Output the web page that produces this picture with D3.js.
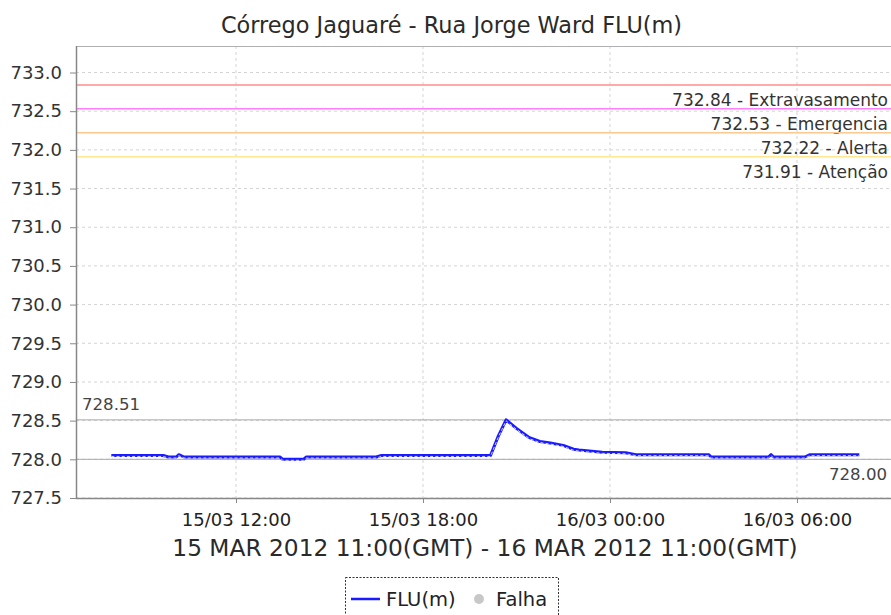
<!DOCTYPE html>
<html>
<head>
<meta charset="utf-8">
<script src="https://cdn.jsdelivr.net/npm/d3@7"></script>
<style>
  html, body { margin: 0; padding: 0; background: #fff; }
  svg { display: block; font-family: "DejaVu Sans", sans-serif; }
</style>
</head>
<body>
<svg id="chart" width="891" height="615"></svg>
<script>
// Water level readings, FLU(m), local time (GMT-3)
const times = [
  "2012-03-15 08:00", "2012-03-15 09:40", "2012-03-15 09:50", "2012-03-15 10:05",
  "2012-03-15 10:10", "2012-03-15 10:20", "2012-03-15 13:25", "2012-03-15 13:30",
  "2012-03-15 14:10", "2012-03-15 14:15", "2012-03-15 16:30", "2012-03-15 16:40",
  "2012-03-15 20:10", "2012-03-15 20:25", "2012-03-15 20:40", "2012-03-15 21:00",
  "2012-03-15 21:25", "2012-03-15 21:45", "2012-03-15 22:05", "2012-03-15 22:30",
  "2012-03-15 22:50", "2012-03-15 23:00", "2012-03-15 23:45", "2012-03-16 00:30",
  "2012-03-16 00:50", "2012-03-16 03:10", "2012-03-16 03:15", "2012-03-16 05:05",
  "2012-03-16 05:10", "2012-03-16 05:15", "2012-03-16 06:15", "2012-03-16 06:25",
  "2012-03-16 08:00"
];
const levels = [
  728.05, 728.05, 728.03, 728.03,
  728.06, 728.03, 728.03, 728.00,
  728.00, 728.03, 728.03, 728.05,
  728.05, 728.30, 728.51, 728.40,
  728.28, 728.23, 728.21, 728.18,
  728.13, 728.12, 728.09, 728.085,
  728.06, 728.06, 728.03, 728.03,
  728.06, 728.03, 728.03, 728.06,
  728.06
];

// Alarm thresholds
const thresholdValues = [732.84, 732.53, 732.22, 731.91];
const thresholdNames = ["Extravasamento", "Emergencia", "Alerta", "Atenção"];
const thresholdColors = ["#ff8c8c", "#ff80ff", "#ffc890", "#ffe890"];

// Max / min markers
const maxValue = 728.51;
const minValue = 728.00;

const yTicks = [727.5, 728.0, 728.5, 729.0, 729.5, 730.0, 730.5, 731.0, 731.5, 732.0, 732.5, 733.0];
const xTickLabels = ["2012-03-15 12:00", "2012-03-15 18:00", "2012-03-16 00:00", "2012-03-16 06:00"];
const xDomain = ["2012-03-15 06:52", "2012-03-16 09:01"];

const titleText = "Córrego Jaguaré - Rua Jorge Ward FLU(m)";
const periodText = "15 MAR 2012 11:00(GMT) - 16 MAR 2012 11:00(GMT)";
const legendNames = ["FLU(m)", "Falha"];

const parse = d3.utcParse("%Y-%m-%d %H:%M");
const data = times.map((t, i) => ({ t: parse(t), v: levels[i] }));

const svg = d3.select("#chart");
const plotLeft = 76, plotRight = 891, plotTop = 46, plotBottom = 498;
const textColor = "#2a2a2a";

const x = d3.scaleUtc().domain(xDomain.map(parse)).range([plotLeft, plotRight]);
const y = d3.scaleLinear().domain([727.5, 733.0]).range([plotBottom, 72.5]);

// Title
svg.append("text")
  .attr("x", 451.5).attr("y", 33)
  .attr("text-anchor", "middle")
  .attr("font-size", 22.4)
  .attr("fill", textColor)
  .text(titleText);

// Gridlines
const grid = svg.append("g");
grid.selectAll("line.gy").data(yTicks).join("line")
  .attr("x1", plotLeft).attr("x2", plotRight)
  .attr("y1", d => y(d)).attr("y2", d => y(d))
  .attr("stroke", "#d4d4d4").attr("stroke-width", 1)
  .attr("stroke-dasharray", "3,3");
grid.selectAll("line.gx").data(xTickLabels.map(parse)).join("line")
  .attr("x1", d => x(d)).attr("x2", d => x(d))
  .attr("y1", plotTop).attr("y2", plotBottom)
  .attr("stroke", "#d4d4d4").attr("stroke-width", 1)
  .attr("stroke-dasharray", "3,3");

// Plot top border
svg.append("line")
  .attr("x1", plotLeft).attr("x2", plotRight)
  .attr("y1", plotTop + 0.5).attr("y2", plotTop + 0.5)
  .attr("stroke", "#b0b0b0");

// Threshold lines with labels
thresholdValues.forEach((v, i) => {
  svg.append("line")
    .attr("x1", plotLeft).attr("x2", plotRight)
    .attr("y1", y(v)).attr("y2", y(v))
    .attr("stroke", thresholdColors[i]).attr("stroke-width", 1.5);
  svg.append("text")
    .attr("x", 888).attr("y", y(v) + 21)
    .attr("text-anchor", "end")
    .attr("font-size", 17)
    .attr("fill", "#333")
    .text(`${v.toFixed(2)} - ${thresholdNames[i]}`);
});

// Max / min marker lines
[maxValue, minValue].forEach(v => {
  svg.append("line")
    .attr("x1", plotLeft).attr("x2", plotRight)
    .attr("y1", y(v)).attr("y2", y(v))
    .attr("stroke", "#a8a8a8").attr("stroke-width", 1);
});
svg.append("text")
  .attr("x", 82).attr("y", y(maxValue) - 10)
  .attr("font-size", 16.6)
  .attr("fill", "#444")
  .text(maxValue.toFixed(2));
svg.append("text")
  .attr("x", 887).attr("y", y(minValue) + 20.5)
  .attr("text-anchor", "end")
  .attr("font-size", 16.6)
  .attr("fill", "#444")
  .text(minValue.toFixed(2));

// Series
const line = d3.line().x(d => x(d.t)).y(d => y(d.v));
svg.append("path").datum(data)
  .attr("d", line)
  .attr("fill", "none")
  .attr("stroke", "#1a1aff")
  .attr("stroke-width", 3)
  .attr("stroke-linejoin", "round");
svg.append("path").datum(data)
  .attr("d", line)
  .attr("transform", "translate(0,1)")
  .attr("fill", "none")
  .attr("stroke", "#e8e8ff")
  .attr("stroke-width", 0.9)
  .attr("stroke-dasharray", "3,2.2");

// Axes
const yAxis = d3.axisLeft(y).tickValues(yTicks).tickFormat(d3.format(".1f")).tickSize(6).tickPadding(8);
const gy = svg.append("g").attr("transform", `translate(${plotLeft},0)`).call(yAxis);
gy.select(".domain").attr("d", `M0.5,${plotTop}V${plotBottom}`).attr("stroke", "#888").attr("stroke-width", 1.5);
gy.selectAll(".tick line").attr("stroke", "#888");
gy.selectAll(".tick text")
  .attr("font-family", "DejaVu Sans, sans-serif")
  .attr("font-size", 18)
  .attr("fill", "#333");

const xAxis = d3.axisBottom(x).tickValues(xTickLabels.map(parse))
  .tickFormat(d3.utcFormat("%d/%m %H:%M")).tickSize(5).tickPadding(10);
const gx = svg.append("g").attr("transform", `translate(0,${plotBottom})`).call(xAxis);
gx.select(".domain").attr("d", `M${plotLeft},0.5H${plotRight}`).attr("stroke", "#888").attr("stroke-width", 1.5);
gx.selectAll(".tick line").attr("stroke", "#888");
gx.selectAll(".tick text")
  .attr("font-family", "DejaVu Sans, sans-serif")
  .attr("font-size", 18)
  .attr("fill", "#222");

// Period label
svg.append("text")
  .attr("x", 485).attr("y", 556)
  .attr("text-anchor", "middle")
  .attr("font-size", 23.3)
  .attr("fill", textColor)
  .text(periodText);

// Legend
const lg = svg.append("g");
lg.append("rect")
  .attr("x", 345.5).attr("y", 577.5).attr("width", 213).attr("height", 50)
  .attr("fill", "#fff").attr("stroke", "#333").attr("stroke-dasharray", "2,1.5");
lg.append("line")
  .attr("x1", 351).attr("x2", 380).attr("y1", 599).attr("y2", 599)
  .attr("stroke", "#1a1aff").attr("stroke-width", 2.5);
lg.append("text")
  .attr("x", 386).attr("y", 606)
  .attr("font-size", 19.5)
  .attr("fill", "#222").text(legendNames[0]);
lg.append("circle")
  .attr("cx", 479).attr("cy", 599).attr("r", 5)
  .attr("fill", "#c8c8c8");
lg.append("text")
  .attr("x", 496).attr("y", 606)
  .attr("font-size", 19.5)
  .attr("fill", "#222").text(legendNames[1]);
</script>
</body>
</html>
